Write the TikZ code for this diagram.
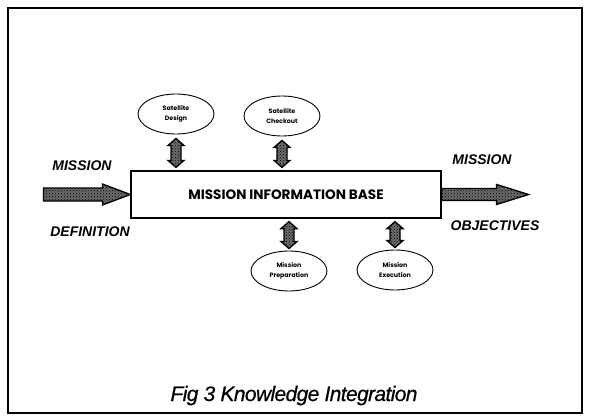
\documentclass[tikz,border=0pt]{standalone}
\usepackage{fontspec}
\setmainfont{Liberation Sans}
\newfontfamily\gothic{Poppins}
\usetikzlibrary{shapes.geometric,patterns,calc}

\tikzset{
  frame/.style={draw=black, line width=2pt},
  basebox/.style={draw=black, line width=1.2pt, minimum width=310pt, minimum height=47pt,
    inner sep=0pt, font=\gothic\bfseries\fontsize{13.6}{15}\selectfont},
  bubble/.style={ellipse, draw=black, line width=0.9pt, minimum width=76pt, minimum height=40pt,
    inner sep=0pt, align=center, font=\gothic\bfseries\fontsize{6.3}{10}\selectfont},
  hatched/.style={fill=black!58, draw=black, line width=1.3pt, line join=miter,
    postaction={pattern=crosshatch dots, pattern color=black}},
  tag/.style={font=\bfseries\itshape\fontsize{14}{16}\selectfont, inner sep=0pt},
}

% fat single-headed arrow from #1 to #2:
% head length #3, half head width #4, half shaft width #5
\newcommand{\fatflow}[5]{%
  \coordinate (ff-h) at ($(#2)!#3!(#1)$);
  \path[hatched]
    ($(#1)!#5!90:(#2)$) -- ($(ff-h)!#5!90:(#2)$) -- ($(ff-h)!#4!90:(#2)$) --
    (#2) --
    ($(ff-h)!#4!-90:(#2)$) -- ($(ff-h)!#5!-90:(#2)$) -- ($(#1)!#5!-90:(#2)$) -- cycle;
}
% fat two-headed link between #1 and #2 (same size parameters)
\newcommand{\fatlink}[5]{%
  \coordinate (fl-a) at ($(#1)!#3!(#2)$);
  \coordinate (fl-b) at ($(#2)!#3!(#1)$);
  \path[hatched]
    (#1) -- ($(fl-a)!#4!90:(#2)$) -- ($(fl-a)!#5!90:(#2)$) --
    ($(fl-b)!#5!90:(#2)$) -- ($(fl-b)!#4!90:(#2)$) --
    (#2) --
    ($(fl-b)!#4!-90:(#2)$) -- ($(fl-b)!#5!-90:(#2)$) --
    ($(fl-a)!#5!-90:(#2)$) -- ($(fl-a)!#4!-90:(#2)$) -- cycle;
}

\begin{document}
\begin{tikzpicture}[x=1pt, y=-1pt]
  \useasboundingbox (0,0) rectangle (589,420);
  \fill[white] (0,0) rectangle (589,420);

  % outer border
  \draw[frame] (8,8) rectangle (582,413);

  % central information base
  \node[basebox] (mib) at (286,194.5) {MISSION INFORMATION BASE};

  % surrounding activities
  \node[bubble] (design)   at (176,114) {Satellite\\Design};
  \node[bubble] (checkout) at (282,116) {Satellite\\Checkout};
  \node[bubble] (prep)     at (289,271) {Mission\\Preparation};
  \node[bubble] (exec)     at (395,270) {Mission\\Execution};

  % end points of the two-way links
  \coordinate (d1) at ($(design.south)+(0,4)$);
  \coordinate (d2) at ($(design.south |- mib.north)+(0,-3)$);
  \coordinate (c1) at ($(checkout.south)+(0,4)$);
  \coordinate (c2) at ($(checkout.south |- mib.north)+(0,-3)$);
  \coordinate (p1) at ($(prep.north |- mib.south)+(0,3)$);
  \coordinate (p2) at ($(prep.north)+(0,-2)$);
  \coordinate (e1) at ($(exec.north |- mib.south)+(0,3)$);
  \coordinate (e2) at ($(exec.north)+(0,-2)$);

  % two-way links between the activities and the base
  \fatlink{d1}{d2}{7pt}{8pt}{5pt}
  \fatlink{c1}{c2}{7pt}{8pt}{5pt}
  \fatlink{p1}{p2}{7pt}{8pt}{5pt}
  \fatlink{e1}{e2}{7pt}{8pt}{5pt}

  % input and output flows
  \coordinate (intail) at ([xshift=-87pt]mib.west);
  \coordinate (outtip) at ([xshift=87pt]mib.east);
  \fatflow{intail}{mib.west}{28pt}{10.5pt}{6.5pt}
  \fatflow{mib.east}{outtip}{32pt}{10pt}{6pt}

  % flow labels
  \node[tag] (inl1) at (82,166) {MISSION};
  \node[tag] (inl2) at (90,232) {DEFINITION};
  \node[tag] (outl1) at (482,160) {MISSION};
  \node[tag] (outl2) at (495,226) {OBJECTIVES};

  % caption
  \node[anchor=base, inner sep=0pt,
        font=\itshape\addfontfeatures{LetterSpace=-3,FakeBold=0.5}\fontsize{21}{23}\selectfont]
        (cap) at (294,401) {Fig 3 Knowledge Integration};
\end{tikzpicture}
\end{document}
